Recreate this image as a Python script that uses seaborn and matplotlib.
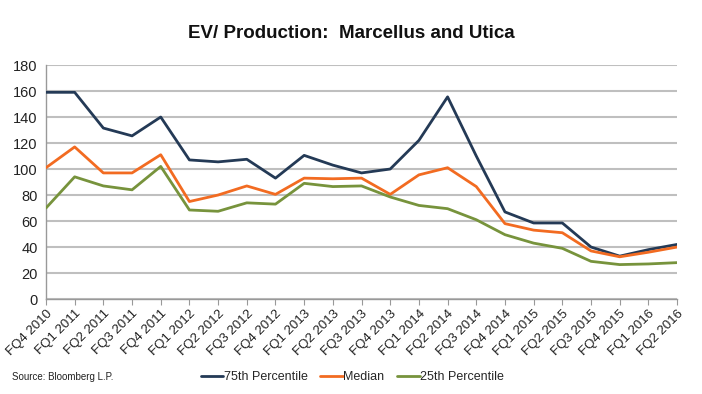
import pandas as pd
import seaborn as sns
import matplotlib.pyplot as plt

# Quarters on the x axis
quarters = ["FQ4 2010", "FQ1 2011", "FQ2 2011", "FQ3 2011", "FQ4 2011",
            "FQ1 2012", "FQ2 2012", "FQ3 2012", "FQ4 2012",
            "FQ1 2013", "FQ2 2013", "FQ3 2013", "FQ4 2013",
            "FQ1 2014", "FQ2 2014", "FQ3 2014", "FQ4 2014",
            "FQ1 2015", "FQ2 2015", "FQ3 2015", "FQ4 2015",
            "FQ1 2016", "FQ2 2016"]

# EV / production values
p75 = [159, 159, 131.5, 125.5, 140, 107, 105.5, 107.5, 93, 110.5, 103, 97,
       100, 122, 155.5, 110, 67, 58.5, 58.5, 40, 33, 38, 42]
median = [101, 117, 97, 97, 111, 75, 80, 87, 80.5, 93, 92.5, 93,
          80.5, 95.5, 101, 86.5, 58, 53, 51, 37, 32.5, 36, 40]
p25 = [70, 94, 87, 84, 102, 68.5, 67.5, 74, 73, 89, 86.5, 87,
       78.5, 72, 69.5, 61, 49.5, 43, 39, 29, 26.5, 27, 28]

series = ["75th Percentile", "Median", "25th Percentile"]
colors = {"75th Percentile": "#243a56", "Median": "#f26b21", "25th Percentile": "#77933c"}

rows = []
for name, vals in zip(series, [p75, median, p25]):
    for i, v in enumerate(vals):
        rows.append({"idx": i, "value": v, "series": name})
df = pd.DataFrame(rows)

sns.set_style("white")
plt.rcParams["font.family"] = ["Liberation Sans", "DejaVu Sans"]

fig = plt.figure(figsize=(7.02, 3.94), dpi=100)
ax = fig.add_axes([0.0655, 0.241, 0.899, 0.594])

sns.lineplot(data=df, x="idx", y="value", hue="series", hue_order=series,
             palette=colors, linewidth=2, ax=ax, legend=False, zorder=3)

ax.set_xlim(0, len(quarters) - 1)
ax.set_ylim(0, 180)
ax.set_yticks(range(0, 181, 20))
ax.set_xticks(range(len(quarters)))
ax.set_xticklabels(quarters, rotation=45, ha="right", rotation_mode="anchor", fontsize=9.5, color="#222222")
ax.tick_params(axis="y", labelsize=10.5, colors="#222222", length=0, pad=6)
ax.tick_params(axis="x", length=4, color="#999999", direction="out", bottom=True, pad=2)
ax.grid(axis="y", color="#bfbfbf", linewidth=1.5, zorder=0)
ax.set_axisbelow(True)
ax.set_xlabel("")
ax.set_ylabel("")
for s in ["top", "right"]:
    ax.spines[s].set_visible(False)
for s in ["left", "bottom"]:
    ax.spines[s].set_color("#999999")
    ax.spines[s].set_linewidth(1)

fig.text(0.5, 0.915, "EV/ Production:  Marcellus and Utica", ha="center", va="center",
         fontsize=13.5, fontweight="bold", color="#111111")
fig.text(0.017, 0.043, "Source: Bloomberg L.P.", fontsize=7, va="center", color="#222222")

handles = [plt.Line2D([], [], color=colors[s], linewidth=2) for s in series]
fig.legend(handles, series, loc="center", bbox_to_anchor=(0.502, 0.043), ncol=3, frameon=False,
           fontsize=9, handlelength=1.8, handletextpad=0.05, columnspacing=1.0)

plt.savefig("out.png", dpi=100)
